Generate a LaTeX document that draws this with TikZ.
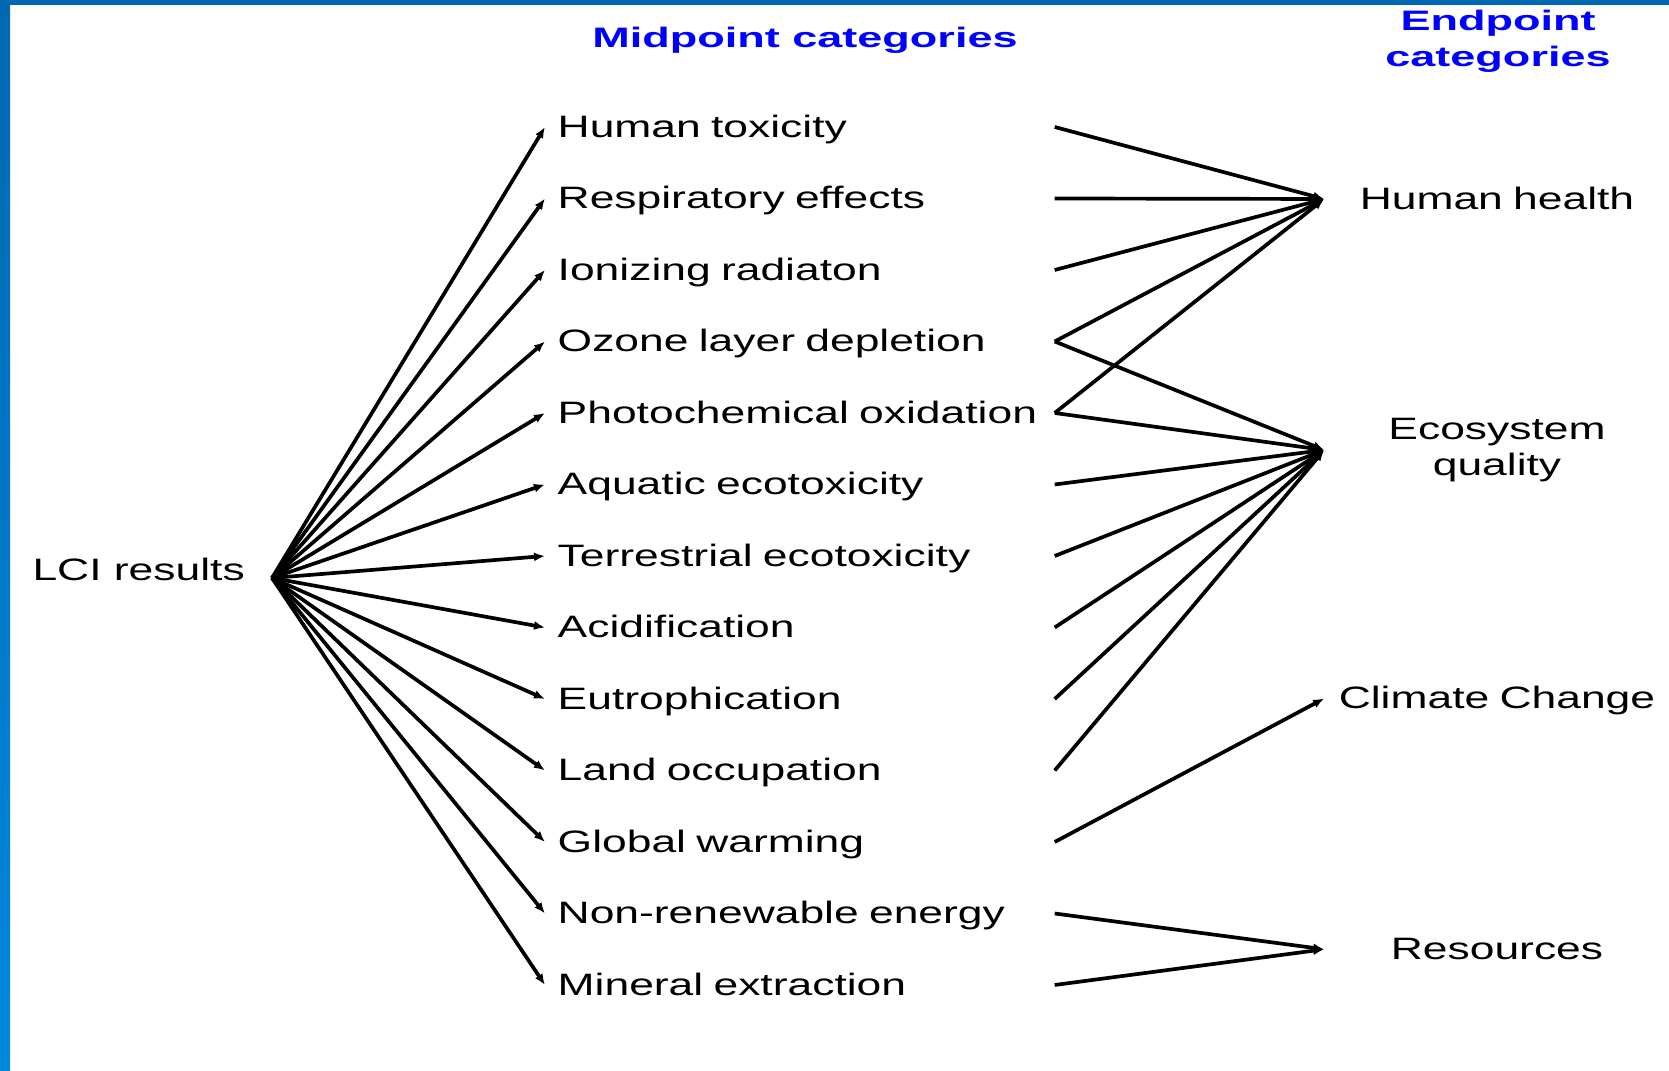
\documentclass[tikz,border=0pt]{standalone}
\usepackage{fontspec}
\setmainfont[FakeStretch=1.435]{Liberation Sans}
\newfontfamily\headfont[FakeStretch=1.60]{Liberation Sans}
\usetikzlibrary{arrows.meta}
\definecolor{framedark}{HTML}{0068B0}
\definecolor{framelight}{HTML}{0088DD}
\definecolor{hdrblue}{HTML}{0000FF}
\begin{document}
\begin{tikzpicture}[x=0.01cm,y=-0.01cm,
  labfont/.style={font=\fontsize{8.8pt}{7.7pt}\selectfont},
  lab/.style={labfont, text height=0.29cm, text depth=0.08cm, inner ysep=0pt},
  mid/.style={lab, anchor=west, inner xsep=0.12cm, text width=4.84cm, align=left},
  endp/.style={lab, inner xsep=0.12cm, text width=3.2cm, align=center},
  hdr/.style={font=\fontsize{8pt}{10.3pt}\headfont\bfseries, text=hdrblue, inner sep=0pt},
  feed/.style={line width=1.05pt, -{Latex[length=0.11cm,width=0.09cm]}}
]
\useasboundingbox (0,0) rectangle (1669,1071);
\fill[white] (0,0) rectangle (1669,1071);

% slide frame: top rule and shaded left bar
\fill[framedark] (0,0) rectangle (1669,5);
\shade[top color=framedark, bottom color=framelight] (0,0) rectangle (10,1071);

% column headings
\node[hdr, anchor=base] (hmid) at (805,47.7) {Midpoint categories};
\node[hdr, anchor=north, align=center] (hend) at (1498,9.3) {Endpoint\\categories};

% inventory source
\node[labfont, inner ysep=0pt, anchor=east, inner xsep=0.265cm, text height=0.13cm, text depth=0.08cm]
  (lci) at (272,578) {LCI results};

% midpoint categories
\foreach \lbl [count=\i] in {Human toxicity, Respiratory effects, Ionizing radiaton,
    Ozone layer depletion, Photochemical oxidation, Aquatic ecotoxicity,
    Terrestrial ecotoxicity, Acidification, Eutrophication, Land occupation,
    Global warming, Non-renewable energy, Mineral extraction}
  \node[mid] (m\i) at (545,{127+(\i-1)*71.5}) {\lbl};

% endpoint categories
\node[endp] (hh) at (1497,199) {Human health};
\node[labfont, inner ysep=0pt, inner xsep=0.12cm, text width=3.2cm, align=center]
  (eq) at (1497,450) {Ecosystem\\[1.1pt]quality};
\node[endp] (cc) at (1497,698.5) {Climate Change};
\node[endp] (res) at (1497,949.3) {Resources};

% inventory to midpoints
\foreach \i in {1,...,13}
  \draw[feed] (lci.east) -- (m\i.west);

% midpoints to endpoints
\foreach \i in {1,...,5}
  \draw[feed] (m\i.east) -- (hh.west);
\foreach \i in {4,...,10}
  \draw[feed] (m\i.east) -- (eq.west);
\draw[feed] (m11.east) -- (cc.west);
\foreach \i in {12,13}
  \draw[feed] (m\i.east) -- (res.west);
\end{tikzpicture}
\end{document}
